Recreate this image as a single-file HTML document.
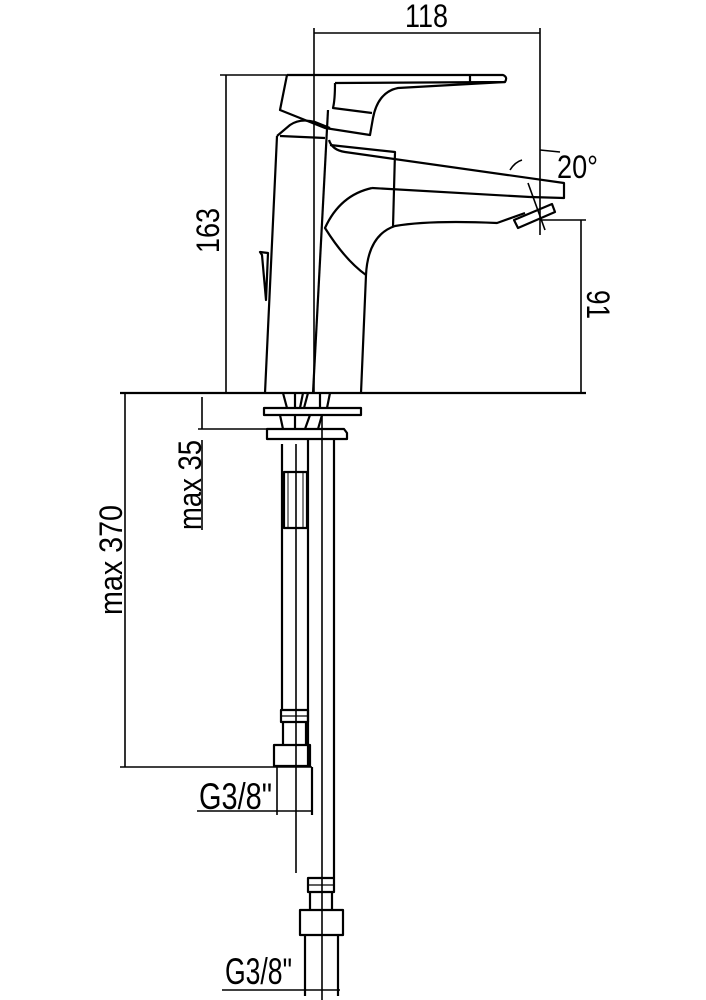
<!DOCTYPE html>
<html><head><meta charset="utf-8"><style>
html,body{margin:0;padding:0;background:#fff}
svg{display:block}
text{font-family:"Liberation Sans Narrow","Liberation Sans",sans-serif;fill:#000}
</style></head><body>
<svg width="706" height="1000" viewBox="0 0 706 1000" xmlns="http://www.w3.org/2000/svg">
<g fill="none" stroke="#000" stroke-width="2.2" stroke-linejoin="round">
<line x1="314" y1="28" x2="314" y2="393" stroke-width="1.6"/>
<line x1="540" y1="28" x2="540" y2="235" stroke-width="1.6"/>
<line x1="314" y1="33" x2="540" y2="33" stroke-width="1.6"/>
<line x1="220" y1="75" x2="290" y2="75" stroke-width="1.6"/>
<line x1="226" y1="75" x2="226" y2="393" stroke-width="1.6"/>
<line x1="120" y1="393" x2="586" y2="393"/>
<line x1="540" y1="220" x2="586" y2="220" stroke-width="1.6"/>
<line x1="581" y1="220" x2="581" y2="393" stroke-width="1.6"/>
<path d="M277 136 L265 393 M361 393 L366 275"/>
<path d="M328 110 L313 393"/>
<path d="M277 136 L290 125 Q300 118 315 122 L330 128"/>
<path d="M280 136 L325 138"/>
<path d="M287 75 L503 75 Q508 77 505 82 L335 83"/>
<path d="M287 75 L280 110 L325 128 L370 135 L373 118 Q378 92 398 88 L505 82"/>
<path d="M335 83 Q335 100 333 108 L372 113"/>
<path d="M470 76 L470 84"/>
<path d="M260 252 L268 253 L266 300 L262 255 Z"/>
<path d="M329 140 Q332 150 345 152 L564 183 L564 198 L530 197"/>
<path d="M372 188 L530 197"/>
<path d="M330 145 L395 152 L393 227"/>
<path d="M372 188 Q340 195 325 228 Q345 260 366 275"/>
<path d="M366 275 Q368 235 395 226 Q430 220 497 223 L525 213"/>
<path d="M514 220 L518 228 L555 212 L552 204 Z"/>
<path d="M528 183 L545 230" stroke-width="1.6"/>
<path d="M510 170 Q515 162 522 160" stroke-width="1.6"/>
<path d="M540 150 L560 152" stroke-width="1.6"/>
<rect x="264" y="408" width="97" height="7"/>
<path d="M267 429 L344 429 L347 433 L347 439 L267 439 Z"/>
<path d="M283 393 L287 408 M295 393 L295 408 M303 393 L300 408 M308 393 L304 408 M320 393 L320 408 M330 393 L327 408"/>
<path d="M280 415 L283 429 M295 415 L295 429 M310 415 L305 429 M322 415 L318 429"/>
<line x1="202" y1="397" x2="202" y2="429" stroke-width="1.6"/>
<line x1="198" y1="429" x2="267" y2="429" stroke-width="1.6"/>
<line x1="202" y1="440" x2="202" y2="530" stroke-width="1.6"/>
<path d="M282 444 L282 710 M308 439 L308 767"/>
<path d="M296 444 L296 873" stroke-width="1.6"/>
<rect x="284" y="472" width="23" height="56"/>
<line x1="288" y1="472" x2="288" y2="528" stroke-width="1"/>
<line x1="303" y1="472" x2="303" y2="528" stroke-width="1"/>
<rect x="281" y="710" width="27" height="12"/>
<line x1="281" y1="716" x2="308" y2="716" stroke-width="1.2"/>
<path d="M283 722 L283 745 M306 722 L306 745"/>
<rect x="274" y="745" width="36" height="21"/>
<line x1="322" y1="415" x2="322" y2="1000" stroke-width="1.6"/>
<line x1="334" y1="439" x2="334" y2="878"/>
<line x1="120" y1="767" x2="312" y2="767" stroke-width="1.6"/>
<line x1="125" y1="393" x2="125" y2="767" stroke-width="1.6"/>
<line x1="277" y1="767" x2="277" y2="815" stroke-width="1.6"/>
<line x1="312" y1="767" x2="312" y2="815"/>
<line x1="197" y1="811" x2="312" y2="811" stroke-width="1.6"/>
<rect x="308" y="878" width="26" height="14"/>
<line x1="308" y1="885" x2="334" y2="885" stroke-width="1.2"/>
<path d="M310 892 L310 910 M332 892 L332 910"/>
<rect x="300" y="910" width="43" height="25"/>
<path d="M305 935 L305 996 M338 935 L338 996"/>
<line x1="222" y1="990" x2="340" y2="990" stroke-width="1.6"/>
</g>
<g font-size="32">
<text x="405" y="27" textLength="43" lengthAdjust="spacingAndGlyphs">118</text>
<text x="557" y="178" textLength="41" lengthAdjust="spacingAndGlyphs">20°</text>
<text transform="translate(219,253) rotate(-90)" textLength="45" lengthAdjust="spacingAndGlyphs">163</text>
<text transform="translate(587,290) rotate(90)" textLength="29" lengthAdjust="spacingAndGlyphs">91</text>
<text transform="translate(201,530) rotate(-90)" textLength="90" lengthAdjust="spacingAndGlyphs">max 35</text>
<text transform="translate(122,615) rotate(-90)" textLength="110" lengthAdjust="spacingAndGlyphs">max 370</text>
<text x="199" y="809" textLength="73" lengthAdjust="spacingAndGlyphs" font-size="37">G3/8"</text>
<text x="225" y="984" textLength="67" lengthAdjust="spacingAndGlyphs" font-size="37">G3/8"</text>
</g>
</svg>
</body></html>
